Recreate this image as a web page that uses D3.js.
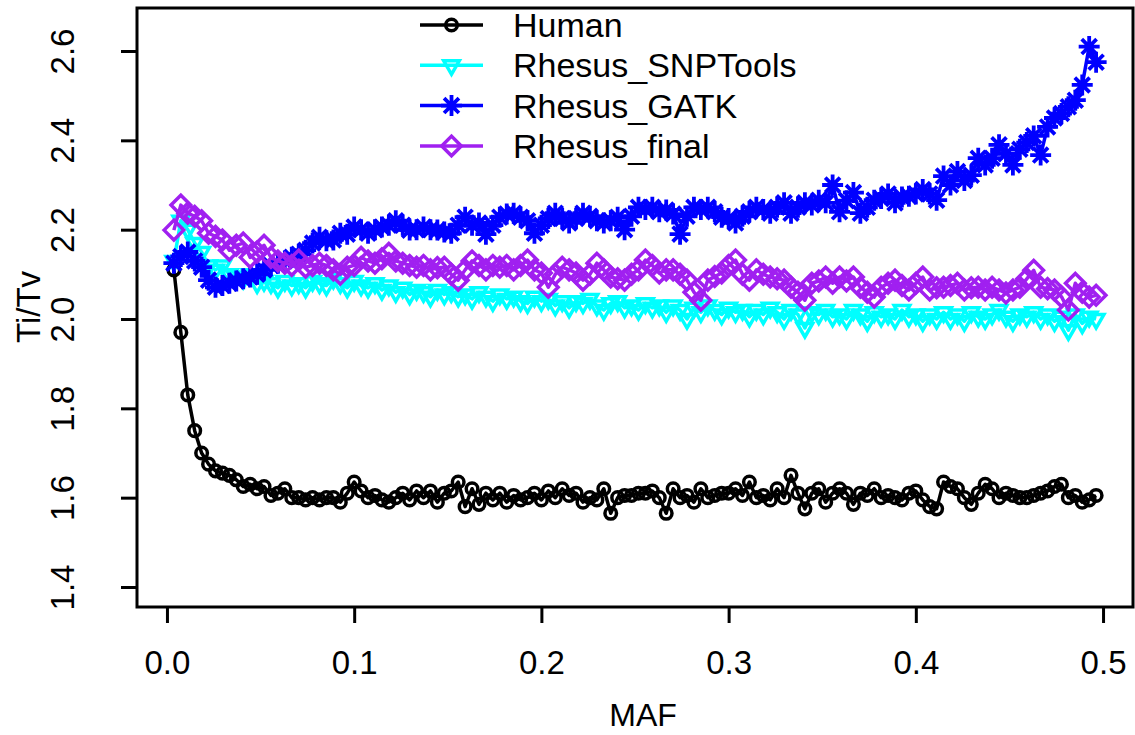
<!doctype html>
<html>
<head>
<meta charset="utf-8">
<title>Ti/Tv by MAF</title>
<script src="https://cdn.jsdelivr.net/npm/d3@7"></script>
<style>
  body { margin: 0; background: #fff; }
  text { font-family: "Liberation Sans", Arial, Helvetica, sans-serif; }
</style>
</head>
<body>
<svg id="chart" width="1135" height="735"></svg>
<script>

    // MAF bins: allele count k out of 270 chromosomes, k = 1..134
    var maf = d3.range(1, 135).map(function(k) { return k / 270; });

    var human = [
        2.11, 1.97, 1.83, 1.75, 1.70, 1.675, 1.66, 1.655, 1.65, 1.64,
        1.625, 1.63, 1.62, 1.625, 1.605, 1.61, 1.62, 1.60, 1.60, 1.595,
        1.60, 1.595, 1.60, 1.60, 1.59, 1.61, 1.635, 1.615, 1.60, 1.605,
        1.595, 1.59, 1.60, 1.61, 1.595, 1.615, 1.60, 1.615, 1.59, 1.61,
        1.615, 1.635, 1.58, 1.62, 1.585, 1.61, 1.595, 1.61, 1.59, 1.605,
        1.595, 1.60, 1.61, 1.595, 1.615, 1.60, 1.62, 1.605, 1.61, 1.59,
        1.60, 1.595, 1.62, 1.565, 1.60, 1.605, 1.605, 1.61, 1.61, 1.615,
        1.60, 1.565, 1.62, 1.60, 1.605, 1.59, 1.62, 1.60, 1.605, 1.61,
        1.61, 1.62, 1.605, 1.635, 1.60, 1.605, 1.595, 1.62, 1.60, 1.65,
        1.61, 1.575, 1.61, 1.62, 1.59, 1.61, 1.62, 1.61, 1.585, 1.61,
        1.605, 1.62, 1.60, 1.605, 1.60, 1.595, 1.61, 1.615, 1.595, 1.58,
        1.575, 1.635, 1.625, 1.62, 1.60, 1.585, 1.61, 1.63, 1.62, 1.60,
        1.61, 1.605, 1.60, 1.60, 1.605, 1.61, 1.615, 1.625, 1.63, 1.60,
        1.605, 1.59, 1.595, 1.605
    ];

    var snptools = [
        2.13, 2.22, 2.20, 2.17, 2.15, 2.12, 2.11, 2.12, 2.10, 2.095,
        2.09, 2.10, 2.08, 2.085, 2.08, 2.07, 2.085, 2.075, 2.08, 2.07,
        2.085, 2.08, 2.075, 2.09, 2.08, 2.07, 2.085, 2.075, 2.07, 2.08,
        2.065, 2.075, 2.06, 2.07, 2.055, 2.065, 2.06, 2.05, 2.065, 2.055,
        2.06, 2.05, 2.055, 2.045, 2.06, 2.05, 2.04, 2.055, 2.045, 2.05,
        2.04, 2.035, 2.05, 2.04, 2.045, 2.03, 2.04, 2.025, 2.04, 2.035,
        2.045, 2.03, 2.02, 2.035, 2.04, 2.025, 2.03, 2.02, 2.035, 2.025,
        2.03, 2.015, 2.03, 2.02, 2.00, 2.025, 2.015, 2.03, 2.02, 2.01,
        2.025, 2.015, 2.02, 2.005, 2.02, 2.01, 2.025, 2.015, 2.00, 2.02,
        2.01, 1.98, 2.015, 2.01, 2.02, 2.005, 2.01, 2.00, 2.02, 2.01,
        1.995, 2.015, 2.005, 2.01, 2.00, 2.02, 2.005, 2.01, 1.995, 2.01,
        2.00, 2.015, 2.00, 2.01, 1.995, 2.015, 2.005, 2.00, 2.01, 2.02,
        2.005, 1.995, 2.01, 2.005, 2.015, 2.00, 2.01, 1.995, 2.005, 1.975,
        2.01, 1.99, 2.005, 2.00
    ];

    var gatk = [
        2.125, 2.14, 2.15, 2.13, 2.116, 2.087, 2.071, 2.075, 2.08, 2.085,
        2.09, 2.094, 2.10, 2.11, 2.12, 2.125, 2.13, 2.138, 2.145, 2.154,
        2.17, 2.183, 2.175, 2.177, 2.192, 2.19, 2.206, 2.20, 2.192, 2.20,
        2.206, 2.21, 2.22, 2.21, 2.199, 2.20, 2.206, 2.20, 2.199, 2.195,
        2.192, 2.21, 2.228, 2.21, 2.215, 2.19, 2.21, 2.228, 2.235, 2.237,
        2.228, 2.22, 2.192, 2.21, 2.225, 2.237, 2.225, 2.215, 2.225, 2.237,
        2.23, 2.22, 2.215, 2.22, 2.228, 2.20, 2.23, 2.25, 2.245, 2.25,
        2.24, 2.244, 2.235, 2.19, 2.23, 2.25, 2.245, 2.25, 2.24, 2.228,
        2.225, 2.215, 2.23, 2.24, 2.25, 2.245, 2.237, 2.25, 2.26, 2.237,
        2.25, 2.26, 2.255, 2.266, 2.26, 2.30, 2.24, 2.265, 2.283, 2.237,
        2.25, 2.266, 2.27, 2.28, 2.26, 2.273, 2.275, 2.28, 2.29, 2.28,
        2.266, 2.32, 2.30, 2.33, 2.31, 2.322, 2.36, 2.345, 2.36, 2.39,
        2.37, 2.345, 2.38, 2.395, 2.41, 2.367, 2.43, 2.45, 2.46, 2.475,
        2.49, 2.524, 2.61, 2.575
    ];

    var rfinal = [
        2.199, 2.255, 2.237, 2.23, 2.22, 2.192, 2.185, 2.177, 2.154, 2.165,
        2.17, 2.138, 2.15, 2.165, 2.138, 2.13, 2.125, 2.12, 2.132, 2.116,
        2.12, 2.125, 2.12, 2.11, 2.10, 2.116, 2.12, 2.138, 2.13, 2.125,
        2.135, 2.147, 2.13, 2.125, 2.12, 2.116, 2.12, 2.11, 2.115, 2.116,
        2.10, 2.087, 2.11, 2.13, 2.12, 2.11, 2.12, 2.116, 2.12, 2.11,
        2.12, 2.132, 2.11, 2.103, 2.071, 2.10, 2.116, 2.11, 2.103, 2.087,
        2.10, 2.125, 2.11, 2.094, 2.09, 2.087, 2.10, 2.11, 2.132, 2.12,
        2.103, 2.11, 2.11, 2.10, 2.087, 2.06, 2.042, 2.087, 2.095, 2.103,
        2.12, 2.132, 2.10, 2.087, 2.11, 2.10, 2.094, 2.09, 2.087, 2.071,
        2.06, 2.042, 2.08, 2.085, 2.094, 2.08, 2.094, 2.085, 2.094, 2.071,
        2.06, 2.049, 2.071, 2.08, 2.087, 2.075, 2.065, 2.08, 2.094, 2.065,
        2.07, 2.071, 2.075, 2.08, 2.065, 2.07, 2.071, 2.065, 2.071, 2.065,
        2.058, 2.065, 2.071, 2.09, 2.109, 2.071, 2.068, 2.065, 2.05, 2.02,
        2.08, 2.06, 2.049, 2.053
    ];

    var xTicks = [0.0, 0.1, 0.2, 0.3, 0.4, 0.5];
    var yTicks = [1.4, 1.6, 1.8, 2.0, 2.2, 2.4, 2.6];

    var seriesNames = ["Human", "Rhesus_SNPTools", "Rhesus_GATK", "Rhesus_final"];
    var seriesColors = ["#000000", "#00FFFF", "#0000FF", "#A020F0"];
    var seriesShapes = ["circle", "triangle", "star", "diamond"];
    var seriesValues = [human, snptools, gatk, rfinal];

    var fontSize = 33;
    var lw = 3.5;

    var svg = d3.select("#chart");

    var x = d3.scaleLinear().domain([-0.016, 0.516]).range([137, 1133]);
    var y = d3.scaleLinear().domain([1.3552, 2.6963]).range([607, 8]);

    // marker drawing (R pch 1, 6, 8, 5)
    function drawMarker(g, shape, cx, cy, color) {
        if (shape === "circle") {
            g.append("circle")
                .attr("cx", cx).attr("cy", cy).attr("r", 5.8)
                .attr("fill", "none").attr("stroke", color).attr("stroke-width", lw);
        } else if (shape === "triangle") {
            var r = 9, xc = r * Math.sqrt(3) / 2, yc = r / 2;
            g.append("path")
                .attr("d", "M" + (cx - xc) + "," + (cy - yc) + "L" + (cx + xc) + "," + (cy - yc) + "L" + cx + "," + (cy + r) + "Z")
                .attr("fill", "none").attr("stroke", color).attr("stroke-width", lw);
        } else if (shape === "star") {
            var a = 10.5, b = a / Math.SQRT2;
            var d = "M" + (cx - a) + "," + cy + "L" + (cx + a) + "," + cy +
                    "M" + cx + "," + (cy - a) + "L" + cx + "," + (cy + a) +
                    "M" + (cx - b) + "," + (cy - b) + "L" + (cx + b) + "," + (cy + b) +
                    "M" + (cx - b) + "," + (cy + b) + "L" + (cx + b) + "," + (cy - b);
            g.append("path").attr("d", d)
                .attr("fill", "none").attr("stroke", color).attr("stroke-width", lw + 0.3);
        } else if (shape === "diamond") {
            var h = 9.8;
            g.append("path")
                .attr("d", "M" + (cx - h) + "," + cy + "L" + cx + "," + (cy - h) + "L" + (cx + h) + "," + cy + "L" + cx + "," + (cy + h) + "Z")
                .attr("fill", "none").attr("stroke", color).attr("stroke-width", lw);
        }
    }

    var plot = svg.append("g");
    var line = d3.line()
        .x(function(d) { return x(d[0]); })
        .y(function(d) { return y(d[1]); });

    for (var s = 0; s < seriesValues.length; s++) {
        var pts = maf.map(function(m, i) { return [m, seriesValues[s][i]]; });
        var g = plot.append("g");
        g.append("path")
            .datum(pts)
            .attr("d", line)
            .attr("fill", "none")
            .attr("stroke", seriesColors[s])
            .attr("stroke-width", lw)
            .attr("stroke-linejoin", "round");
        for (var i = 0; i < pts.length; i++) {
            drawMarker(g, seriesShapes[s], x(pts[i][0]), y(pts[i][1]), seriesColors[s]);
        }
    }

    // box
    svg.append("rect")
        .attr("x", 137).attr("y", 8)
        .attr("width", 996).attr("height", 599)
        .attr("fill", "none").attr("stroke", "#000").attr("stroke-width", 3);

    // x axis
    var xAxis = svg.append("g")
        .attr("transform", "translate(0,607)")
        .call(d3.axisBottom(x).tickValues(xTicks).tickSize(16)
            .tickFormat(d3.format(".1f")));
    xAxis.select(".domain").remove();
    xAxis.selectAll(".tick line").attr("stroke-width", 3);
    xAxis.selectAll(".tick text")
        .attr("font-size", fontSize).attr("font-family", null)
        .attr("dy", null).attr("y", 67).attr("fill", "#000");

    // y axis
    var yAxis = svg.append("g")
        .attr("transform", "translate(137,0)")
        .call(d3.axisLeft(y).tickValues(yTicks).tickSize(16)
            .tickFormat(d3.format(".1f")));
    yAxis.select(".domain").remove();
    yAxis.selectAll(".tick line").attr("stroke-width", 3);
    yAxis.selectAll(".tick text")
        .attr("font-size", fontSize).attr("font-family", null)
        .attr("x", null).attr("dy", null)
        .attr("text-anchor", "middle")
        .attr("transform", "translate(-63,0) rotate(-90)")
        .attr("fill", "#000");

    // axis titles
    svg.append("text")
        .attr("x", 643).attr("y", 726)
        .attr("text-anchor", "middle")
        .attr("font-size", 32)
        .text("MAF");

    svg.append("text")
        .attr("transform", "translate(40,307) rotate(-90)")
        .attr("text-anchor", "middle")
        .attr("font-size", fontSize)
        .text("Ti/Tv");

    // legend
    var legend = svg.append("g");
    for (var j = 0; j < seriesNames.length; j++) {
        var ly = 25 + j * 40.3;
        legend.append("line")
            .attr("x1", 420).attr("x2", 483)
            .attr("y1", ly).attr("y2", ly)
            .attr("stroke", seriesColors[j]).attr("stroke-width", lw);
        drawMarker(legend, seriesShapes[j], 451.5, ly, seriesColors[j]);
        legend.append("text")
            .attr("x", 513).attr("y", ly)
            .attr("dy", "0.35em")
            .attr("font-size", 34)
            .text(seriesNames[j]);
    }

</script>
</body>
</html>
